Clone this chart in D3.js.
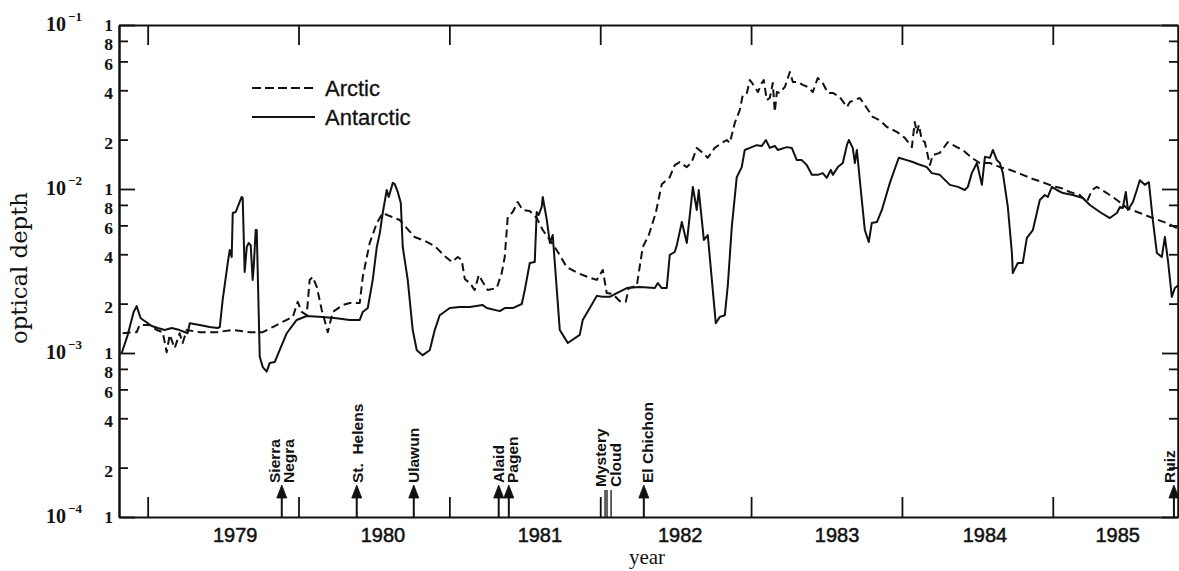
<!DOCTYPE html>
<html>
<head>
<meta charset="utf-8">
<script src="https://cdn.jsdelivr.net/npm/d3@7"></script>
<style>
  html, body { margin: 0; padding: 0; background: #fff; }
  svg { display: block; }
</style>
</head>
<body>
<svg id="chart" width="1179" height="571"></svg>
<script>
// Stratospheric aerosol optical depth, Arctic vs Antarctic, 1978-1985.
// Times are decimal years; depths are optical depth.
const arcticYears = [
  1978.834, 1978.927, 1978.947, 1979.014, 1979.060, 1979.100, 1979.126, 1979.146, 1979.179, 1979.212,
  1979.232, 1979.259, 1979.345, 1979.458, 1979.564, 1979.677, 1979.763, 1979.829, 1979.895, 1979.962,
  1979.995, 1980.021, 1980.054, 1980.074, 1980.094, 1980.121, 1980.154, 1980.194, 1980.227, 1980.293,
  1980.340, 1980.406, 1980.426, 1980.472, 1980.519, 1980.558, 1980.605, 1980.671, 1980.717, 1980.770,
  1980.837, 1980.903, 1980.969, 1981.016, 1981.056, 1981.082, 1981.102, 1981.135, 1981.168, 1981.195,
  1981.221, 1981.254, 1981.314, 1981.347, 1981.367, 1981.387, 1981.420, 1981.453, 1981.486, 1981.533,
  1981.579, 1981.619, 1981.666, 1981.719, 1981.778, 1981.851, 1981.917, 1981.977, 1982.017, 1982.043,
  1982.083, 1982.130, 1982.169, 1982.189, 1982.242, 1982.282, 1982.322, 1982.368, 1982.408, 1982.461,
  1982.494, 1982.527, 1982.574, 1982.607, 1982.640, 1982.680, 1982.713, 1982.759, 1982.806, 1982.839,
  1982.859, 1982.892, 1982.925, 1982.945, 1982.972, 1982.992, 1983.025, 1983.045, 1983.071, 1983.084,
  1983.104, 1983.124, 1983.144, 1983.157, 1983.171, 1983.190, 1983.224, 1983.257, 1983.277, 1983.310,
  1983.343, 1983.376, 1983.409, 1983.442, 1983.475, 1983.509, 1983.542, 1983.588, 1983.635, 1983.655,
  1983.721, 1983.767, 1983.807, 1983.853, 1983.900, 1983.966, 1984.019, 1984.066, 1984.085, 1984.099,
  1984.112, 1984.132, 1984.152, 1984.185, 1984.205, 1984.251, 1984.304, 1984.364, 1984.404, 1984.463,
  1984.516, 1984.583, 1984.649, 1984.715, 1984.801, 1984.868, 1984.934, 1985.000, 1985.060, 1985.113,
  1985.179, 1985.226, 1985.259, 1985.292, 1985.358, 1985.425, 1985.491, 1985.577, 1985.663, 1985.756,
  1985.823
];
const arcticDepth = [
  0.00132, 0.00134, 0.00148, 0.00148, 0.00138, 0.00134, 0.00101, 0.00129, 0.00107, 0.00132,
  0.00115, 0.00138, 0.00134, 0.00134, 0.00138, 0.00134, 0.00134, 0.00144, 0.00155, 0.00166,
  0.00205, 0.00178, 0.00170, 0.00279, 0.00291, 0.00253, 0.00183, 0.00134, 0.00178, 0.00196,
  0.00202, 0.00202, 0.00291, 0.00469, 0.00620, 0.00714, 0.00684, 0.00647, 0.00578, 0.00510,
  0.00482, 0.00449, 0.00390, 0.00359, 0.00385, 0.00369, 0.00283, 0.00267, 0.00242, 0.00299,
  0.00271, 0.00242, 0.00249, 0.00307, 0.00385, 0.00675, 0.00724, 0.00833, 0.00745, 0.00734,
  0.00665, 0.00562, 0.00489, 0.00413, 0.00334, 0.00307, 0.00291, 0.00279, 0.00321, 0.00232,
  0.00229, 0.00207, 0.00205, 0.00249, 0.00256, 0.00443, 0.00524, 0.00714, 0.0107, 0.0118,
  0.0140, 0.0146, 0.0136, 0.0146, 0.0178, 0.0166, 0.0155, 0.0178, 0.0191, 0.0199,
  0.0191, 0.0253, 0.0303, 0.0374, 0.0385, 0.0462, 0.0419, 0.0390, 0.0443, 0.0462,
  0.0349, 0.0359, 0.0443, 0.0295, 0.0390, 0.0385, 0.0419, 0.0517, 0.0449, 0.0449,
  0.0431, 0.0419, 0.0390, 0.0475, 0.0443, 0.0385, 0.0385, 0.0364, 0.0316, 0.0339,
  0.0359, 0.0312, 0.0275, 0.0263, 0.0239, 0.0223, 0.0205, 0.0180, 0.0256, 0.0220,
  0.0246, 0.0199, 0.0193, 0.0140, 0.0161, 0.0166, 0.0193, 0.0180, 0.0173, 0.0155,
  0.0144, 0.0144, 0.0136, 0.0131, 0.0122, 0.0115, 0.0110, 0.0104, 0.0101, 0.00959,
  0.00919, 0.00833, 0.00986, 0.0103, 0.00945, 0.00857, 0.00766, 0.00714, 0.00665, 0.00620,
  0.00578
];

const antarcticYears = [
  1978.828, 1978.868, 1978.907, 1978.927, 1978.954, 1978.987, 1979.027, 1979.067, 1979.113, 1979.159,
  1979.212, 1979.265, 1979.279, 1979.345, 1979.411, 1979.464, 1979.478, 1979.497, 1979.531, 1979.544,
  1979.557, 1979.564, 1979.584, 1979.597, 1979.623, 1979.630, 1979.643, 1979.657, 1979.670, 1979.683,
  1979.696, 1979.703, 1979.716, 1979.723, 1979.743, 1979.763, 1979.789, 1979.809, 1979.842, 1979.875,
  1979.922, 1979.988, 1980.054, 1980.160, 1980.253, 1980.339, 1980.406, 1980.426, 1980.459, 1980.492,
  1980.519, 1980.539, 1980.558, 1980.585, 1980.598, 1980.625, 1980.638, 1980.658, 1980.678, 1980.691,
  1980.724, 1980.757, 1980.784, 1980.823, 1980.870, 1980.903, 1980.936, 1981.003, 1981.069, 1981.135,
  1981.221, 1981.248, 1981.334, 1981.367, 1981.420, 1981.480, 1981.500, 1981.533, 1981.566, 1981.579,
  1981.592, 1981.612, 1981.619, 1981.646, 1981.666, 1981.685, 1981.699, 1981.732, 1981.752, 1981.785,
  1981.864, 1981.884, 1981.931, 1981.977, 1982.017, 1982.063, 1982.110, 1982.176, 1982.262, 1982.362,
  1982.382, 1982.408, 1982.441, 1982.461, 1982.494, 1982.508, 1982.541, 1982.574, 1982.607, 1982.614,
  1982.640, 1982.653, 1982.687, 1982.713, 1982.740, 1982.766, 1982.793, 1982.826, 1982.846, 1982.872,
  1982.905, 1982.938, 1982.958, 1982.992, 1983.038, 1983.071, 1983.098, 1983.124, 1983.157, 1983.177,
  1983.237, 1983.270, 1983.303, 1983.336, 1983.369, 1983.403, 1983.442, 1983.475, 1983.502, 1983.529,
  1983.542, 1983.575, 1983.608, 1983.635, 1983.648, 1983.674, 1983.688, 1983.701, 1983.734, 1983.754,
  1983.780, 1983.800, 1983.834, 1983.867, 1983.920, 1983.979, 1984.032, 1984.072, 1984.105, 1984.165,
  1984.198, 1984.251, 1984.318, 1984.371, 1984.417, 1984.437, 1984.463, 1984.497, 1984.530, 1984.550,
  1984.583, 1984.603, 1984.629, 1984.649, 1984.669, 1984.702, 1984.729, 1984.735, 1984.768, 1984.801,
  1984.828, 1984.868, 1984.914, 1984.947, 1984.967, 1984.994, 1985.027, 1985.067, 1985.133, 1985.199,
  1985.246, 1985.312, 1985.378, 1985.425, 1985.445, 1985.464, 1985.484, 1985.498, 1985.531, 1985.557,
  1985.577, 1985.610, 1985.637, 1985.663, 1985.690, 1985.723, 1985.743, 1985.763, 1985.789, 1985.809,
  1985.836
];
const antarcticDepth = [
  0.00100, 0.00129, 0.00178, 0.00193, 0.00163, 0.00155, 0.00146, 0.00142, 0.00138, 0.00142,
  0.00138, 0.00132, 0.00152, 0.00148, 0.00144, 0.00142, 0.00144, 0.00210, 0.00354, 0.00425,
  0.00385, 0.00714, 0.00724, 0.00777, 0.00894, 0.00881, 0.00312, 0.00443, 0.00469, 0.00455,
  0.00279, 0.00334, 0.00562, 0.00562, 0.00095, 0.00082, 0.00077, 0.00087, 0.00088, 0.00104,
  0.00132, 0.00159, 0.00168, 0.00166, 0.00163, 0.00159, 0.00159, 0.00178, 0.00188, 0.00279,
  0.00443, 0.00539, 0.00714, 0.00986, 0.00894, 0.0109, 0.0107, 0.00959, 0.00821, 0.00443,
  0.00279, 0.00138, 0.00104, 0.00097, 0.00104, 0.00138, 0.00170, 0.00188, 0.00191, 0.00191,
  0.00196, 0.00188, 0.00180, 0.00188, 0.00188, 0.00199, 0.00242, 0.00354, 0.00359, 0.00724,
  0.00694, 0.00777, 0.00894, 0.00647, 0.00469, 0.00524, 0.00354, 0.00138, 0.00129, 0.00115,
  0.00129, 0.00159, 0.00188, 0.00223, 0.00220, 0.00220, 0.00232, 0.00249, 0.00253, 0.00249,
  0.00267, 0.00249, 0.00249, 0.00396, 0.00413, 0.00455, 0.00629, 0.00469, 0.00894, 0.0103,
  0.00745, 0.00986, 0.00489, 0.00524, 0.00279, 0.00152, 0.00166, 0.00170, 0.00260, 0.00586,
  0.0118, 0.0136, 0.0173, 0.0178, 0.0185, 0.0183, 0.0199, 0.0178, 0.0183, 0.0173,
  0.0180, 0.0178, 0.0150, 0.0150, 0.0140, 0.0122, 0.0122, 0.0125, 0.0117, 0.0131,
  0.0122, 0.0136, 0.0144, 0.0185, 0.0199, 0.0178, 0.0144, 0.0173, 0.00857, 0.00562,
  0.00475, 0.00620, 0.00629, 0.00745, 0.0109, 0.0155, 0.0150, 0.0146, 0.0142, 0.0136,
  0.0125, 0.0122, 0.0106, 0.0103, 0.00986, 0.0103, 0.0125, 0.0144, 0.0106, 0.0157,
  0.0155, 0.0173, 0.0150, 0.0144, 0.0125, 0.00777, 0.00407, 0.00307, 0.00354, 0.00354,
  0.00503, 0.00562, 0.00857, 0.00919, 0.00894, 0.0103, 0.00986, 0.00945, 0.00919, 0.00881,
  0.00799, 0.00724, 0.00665, 0.00714, 0.00777, 0.00766, 0.00959, 0.00745, 0.00833, 0.00986,
  0.0113, 0.0106, 0.0110, 0.00647, 0.00407, 0.00385, 0.00510, 0.00369, 0.00220, 0.00249,
  0.00260
];

// Axis ticks and labels
const yearTicks = [1979, 1980, 1981, 1982, 1983, 1984, 1985];
const yearLabels = ["1979", "1980", "1981", "1982", "1983", "1984", "1985"];
const yearLabelAt = [1979.58, 1980.56, 1981.60, 1982.53, 1983.57, 1984.55, 1985.43];
const decades = [1e-4, 1e-3, 1e-2, 1e-1];
const decadeExponents = ["\u22124", "\u22123", "\u22122", "\u22121"];
const minorMultipliers = [2, 4, 6, 8];

// Eruptions marked along the time axis
const volcanoNames = [["Sierra", "Negra"], ["St.  Helens"], ["Ulawun"], ["Alaid"], ["Pagen"], ["El Chichon"], ["Ruiz"]];
const volcanoYears = [1979.889, 1980.386, 1980.764, 1981.327, 1981.394, 1982.289, 1985.803];
const mysteryCloudYears = [1982.032, 1982.045, 1982.072];
const mysteryCloudLabel = ["Mystery", "Cloud"];

const seriesNames = ["Arctic", "Antarctic"];

// ---------------------------------------------------------------------------
const plot = { left: 119, right: 1178, top: 25, bottom: 517 };
const ink = "#111";
const serif = "'Liberation Serif', 'Times New Roman', serif";
const wideSerif = "'DejaVu Serif', 'Liberation Serif', serif";
const sans = "'Liberation Sans', Arial, sans-serif";

const svg = d3.select("#chart");

const x = d3.scaleLinear().domain([1978.81, 1985.83]).range([plot.left, plot.right]);
const y = d3.scaleLog().domain([1e-4, 1e-1]).range([plot.bottom, plot.top]);

const minorValues = [];
decades.slice(0, 3).forEach(d => minorMultipliers.forEach(m => minorValues.push(d * m)));

svg.append("defs").append("clipPath").attr("id", "plot-clip")
  .append("rect")
  .attr("x", plot.left).attr("y", plot.top)
  .attr("width", plot.right - plot.left).attr("height", plot.bottom - plot.top);

// --- axes -----------------------------------------------------------------
function styleAxis(g) {
  g.selectAll("path.domain").attr("stroke", ink).attr("stroke-width", 2);
  g.selectAll(".tick line").attr("stroke", ink).attr("stroke-width", 1.8);
}

// left: decades labelled "1", minor ticks labelled 2,4,6,8
const leftMajor = svg.append("g").attr("transform", `translate(${plot.left},0)`)
  .call(d3.axisLeft(y).tickValues(decades).tickSizeInner(-16).tickSizeOuter(0)
    .tickPadding(6).tickFormat(() => "1"));
const leftMinor = svg.append("g").attr("transform", `translate(${plot.left},0)`)
  .call(d3.axisLeft(y).tickValues(minorValues).tickSizeInner(-9).tickSizeOuter(0)
    .tickPadding(6).tickFormat(d => String(Math.round(d / Math.pow(10, Math.floor(Math.log10(d) + 1e-9))))));
[leftMajor, leftMinor].forEach(styleAxis);
// the "1" sits a little high on its tick, the mantissas a little low
leftMajor.selectAll(".tick text").attr("dy", 5);
leftMinor.selectAll(".tick text").attr("dy", 8.5);
[leftMajor, leftMinor].forEach(g => g.selectAll(".tick text")
  .attr("font-family", serif).attr("font-weight", "bold")
  .attr("font-size", 17.5).attr("fill", ink));

// right: ticks only
const rightMajor = svg.append("g").attr("transform", `translate(${plot.right},0)`)
  .call(d3.axisRight(y).tickValues(decades).tickSizeInner(-16).tickSizeOuter(0).tickFormat(""));
const rightMinor = svg.append("g").attr("transform", `translate(${plot.right},0)`)
  .call(d3.axisRight(y).tickValues(minorValues).tickSizeInner(-9).tickSizeOuter(0).tickFormat(""));
[rightMajor, rightMinor].forEach(styleAxis);

// bottom and top: year boundaries
const bottomAxis = svg.append("g").attr("transform", `translate(0,${plot.bottom})`)
  .call(d3.axisBottom(x).tickValues(yearTicks).tickSizeInner(-20).tickSizeOuter(0).tickFormat(""));
const topAxis = svg.append("g").attr("transform", `translate(0,${plot.top})`)
  .call(d3.axisTop(x).tickValues(yearTicks).tickSizeInner(-20).tickSizeOuter(0).tickFormat(""));
[bottomAxis, topAxis].forEach(styleAxis);

// powers of ten beside the decade ticks
const pow = svg.append("g").attr("font-family", serif).attr("fill", ink);
decades.forEach((d, i) => {
  const t = pow.append("text")
    .attr("x", 46).attr("y", y(d) + 6)
    .attr("font-size", 20).attr("font-weight", "bold");
  t.append("tspan").text("10");
  t.append("tspan").attr("font-size", 13).attr("dy", -10).attr("dx", 2).text(decadeExponents[i]);
});

// year labels, centred within each year
svg.append("g").selectAll("text").data(yearLabels).join("text")
  .attr("x", (d, i) => x(yearLabelAt[i]))
  .attr("y", 542)
  .attr("text-anchor", "middle")
  .attr("font-family", sans).attr("font-size", 20)
  .attr("fill", ink)
  .attr("stroke", ink).attr("stroke-width", 0.5)
  .text(d => d);

// axis titles
svg.append("text")
  .attr("transform", `translate(27,268) rotate(-90)`)
  .attr("text-anchor", "middle")
  .attr("font-family", wideSerif).attr("font-size", 22).attr("fill", ink)
  .attr("textLength", 152).attr("lengthAdjust", "spacingAndGlyphs")
  .text("optical depth");
svg.append("text")
  .attr("x", 647).attr("y", 564)
  .attr("text-anchor", "middle")
  .attr("font-family", serif).attr("font-size", 21).attr("fill", ink)
  .text("year");

// --- series -----------------------------------------------------------------
const line = d3.line().x(d => x(d[0])).y(d => y(d[1]));
const arctic = arcticYears.map((t, i) => [t, arcticDepth[i]]);
const antarctic = antarcticYears.map((t, i) => [t, antarcticDepth[i]]);

const lines = svg.append("g").attr("clip-path", "url(#plot-clip)")
  .attr("fill", "none").attr("stroke", ink).attr("stroke-linejoin", "round");
lines.append("path").datum(antarctic).attr("d", line).attr("stroke-width", 2);
lines.append("path").datum(arctic).attr("d", line).attr("stroke-width", 2)
  .attr("stroke-dasharray", "8,4.5");

// --- legend -----------------------------------------------------------------
const legend = svg.append("g");
const legendRows = [
  { name: seriesNames[0], dash: "9,4", y: 88 },
  { name: seriesNames[1], dash: null, y: 117 }
];
legendRows.forEach(r => {
  legend.append("line")
    .attr("x1", 252).attr("x2", 315).attr("y1", r.y).attr("y2", r.y)
    .attr("stroke", ink).attr("stroke-width", 2)
    .attr("stroke-dasharray", r.dash);
  legend.append("text")
    .attr("x", 325).attr("y", r.y + 8)
    .attr("font-family", sans).attr("font-size", 22).attr("fill", ink)
    .attr("stroke", ink).attr("stroke-width", 0.3)
    .text(r.name);
});

// --- eruption markers -----------------------------------------------------
const marks = svg.append("g").attr("fill", ink).attr("stroke", ink);
// label shifts keep the last name clear of the frame edge
const labelOffsets = [[-7, 7], [1], [0], [0], [4], [4], [-5]];
volcanoYears.forEach((t, i) => {
  const px = x(t);
  marks.append("line")
    .attr("x1", px).attr("x2", px).attr("y1", plot.bottom).attr("y2", 496)
    .attr("stroke-width", 2);
  marks.append("path")
    .attr("d", `M${px},485 L${px - 5},498 L${px + 5},498 Z`)
    .attr("stroke-width", 0.8);
  volcanoNames[i].forEach((name, j) => {
    marks.append("text")
      .attr("transform", `translate(${px + labelOffsets[i][j]},483) rotate(-90)`)
      .attr("dy", "0.36em")
      .attr("font-family", sans).attr("font-weight", "bold").attr("font-size", 15.5)
      .attr("stroke", "none")
      .style("white-space", "pre")
      .text(name);
  });
});
mysteryCloudYears.forEach(t => {
  marks.append("line")
    .attr("x1", x(t)).attr("x2", x(t)).attr("y1", plot.bottom).attr("y2", 490)
    .attr("stroke-width", 1.3);
});
const mcx = x(d3.mean(mysteryCloudYears));
mysteryCloudLabel.forEach((name, j) => {
  marks.append("text")
    .attr("transform", `translate(${mcx - 7 + j * 15},487) rotate(-90)`)
    .attr("dy", "0.36em")
    .attr("font-family", sans).attr("font-weight", "bold").attr("font-size", 15.5)
    .attr("stroke", "none")
    .text(name);
});
</script>
</body>
</html>
